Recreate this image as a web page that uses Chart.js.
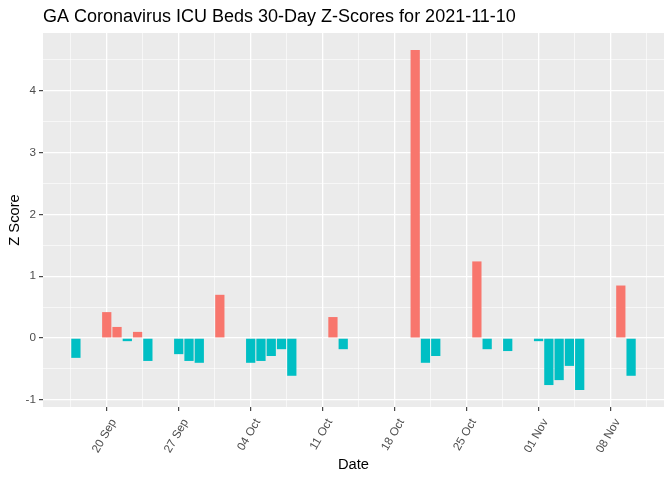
<!DOCTYPE html>
<html>
<head>
<meta charset="utf-8">
<script src="https://cdn.jsdelivr.net/npm/chart.js@4/dist/chart.umd.min.js"></script>
<style>
  html, body { margin: 0; padding: 0; background: #fff; }
  #wrap { width: 672px; height: 480px; }
</style>
</head>
<body>
<div id="wrap"><canvas id="zChart" width="672" height="480"></canvas></div>
<script>
// ==========================
// データ
// ==========================
const dates = [
  "2021-09-17", "2021-09-20", "2021-09-21", "2021-09-22", "2021-09-23", "2021-09-24",
  "2021-09-27", "2021-09-28", "2021-09-29", "2021-10-01",
  "2021-10-04", "2021-10-05", "2021-10-06", "2021-10-07", "2021-10-08",
  "2021-10-12", "2021-10-13",
  "2021-10-20", "2021-10-21", "2021-10-22",
  "2021-10-26", "2021-10-27", "2021-10-29",
  "2021-11-01", "2021-11-02", "2021-11-03", "2021-11-04", "2021-11-05",
  "2021-11-09", "2021-11-10"
];
const zScores = [
  -0.32, 0.42, 0.18, -0.05, 0.10, -0.37,
  -0.26, -0.37, -0.40, 0.70,
  -0.40, -0.37, -0.29, -0.18, -0.61,
  0.34, -0.18,
  4.66, -0.40, -0.29,
  1.24, -0.18, -0.21,
  -0.05, -0.76, -0.68, -0.45, -0.84,
  0.85, -0.61
];
const dateTicks = ["2021-09-20", "2021-09-27", "2021-10-04", "2021-10-11",
                   "2021-10-18", "2021-10-25", "2021-11-01", "2021-11-08"];
const yTicks = [-1, 0, 1, 2, 3, 4];

const titleText = "GA Coronavirus ICU Beds 30-Day Z-Scores for 2021-11-10";
const months = ["Jan", "Feb", "Mar", "Apr", "May", "Jun", "Jul", "Aug", "Sep", "Oct", "Nov", "Dec"];

// 日付 → 基準日(9/20)からの日数
const DAY = 86400000;
const base = Date.UTC(2021, 8, 20);
const toDay = s => (Date.parse(s + "T00:00:00Z") - base) / DAY;
const fmtDay = v => {
  const d = new Date(base + v * DAY);
  return String(d.getUTCDate()).padStart(2, "0") + " " + months[d.getUTCMonth()];
};

const majorX = dateTicks.map(toDay);
const minorX = [majorX[0] - 3.5].concat(majorX.map(v => v + 3.5));
const majorY = yTicks;
const minorY = yTicks.map(v => v + 0.5);

const points = dates.map((d, i) => ({ x: toDay(d), y: zScores[i] }));

const FAMILY = "'Liberation Sans', Arial, sans-serif";
const font = { family: FAMILY, size: 11.7 };

// ==========================
// プラグイン（背景・タイトル・斜めラベル）
// ==========================
const ggLook = {
  id: "ggLook",
  beforeDraw(chart) {
    const { ctx, chartArea: a } = chart;
    ctx.save();
    ctx.fillStyle = "#EBEBEB";
    ctx.fillRect(a.left, a.top, a.right - a.left, a.bottom - a.top);
    ctx.restore();
  },
  afterDraw(chart) {
    const ctx = chart.ctx;
    const xs = chart.scales.x;
    ctx.save();
    ctx.fillStyle = "#000";
    ctx.font = "18px " + FAMILY;
    ctx.textBaseline = "alphabetic";
    ctx.fillText(titleText, chart.chartArea.left, 22);

    // x軸ラベル（60度回転, 右上揃え）
    ctx.fillStyle = "#4D4D4D";
    ctx.font = font.size + "px " + FAMILY;
    ctx.textAlign = "right";
    ctx.textBaseline = "top";
    majorX.forEach(v => {
      const px = xs.getPixelForValue(v);
      ctx.save();
      ctx.translate(px + 2, chart.chartArea.bottom + 10);
      ctx.rotate(-Math.PI / 3);
      ctx.fillText(fmtDay(v), 0, 0);
      ctx.restore();
    });
    ctx.restore();
  }
};

const isMajor = (list, v) => list.some(m => Math.abs(m - v) < 1e-6);

// ==========================
// グラフ表示
// ==========================
new Chart(document.getElementById("zChart"), {
  type: "bar",
  data: {
    datasets: [{
      data: points,
      backgroundColor: ctx => (ctx.raw && ctx.raw.y > 0 ? "#F8766D" : "#00BFC4"),
      borderWidth: 0,
      barPercentage: 0.9,
      categoryPercentage: 1.0
    }]
  },
  options: {
    responsive: false,
    animation: false,
    layout: { padding: { top: 33, right: 8, left: 0, bottom: 0 } },
    plugins: { legend: { display: false }, tooltip: { enabled: false }, title: { display: false } },
    scales: {
      x: {
        type: "linear",
        offset: false,
        min: -6.2,
        max: 54.2,
        afterFit(s) { s.height = 73; },
        afterBuildTicks(s) {
          s.ticks = minorX.concat(majorX).sort((a, b) => a - b).map(v => ({ value: v }));
        },
        ticks: {
          autoSkip: false,
          maxRotation: 0,
          padding: 0,
          font,
          callback: () => ""
        },
        grid: {
          offset: false,
          color: "#FFFFFF",
          lineWidth: c => (c.tick && isMajor(majorX, c.tick.value) ? 1.3 : 0.6),
          tickColor: c => (c.tick && isMajor(majorX, c.tick.value) ? "#333333" : "rgba(0,0,0,0)"),
          tickLength: 4,
          tickWidth: 1.1
        },
        border: { display: false },
        title: {
          display: true,
          text: "Date",
          color: "#000",
          font: { family: FAMILY, size: 14.7 },
          padding: { top: 0, bottom: 6 }
        }
      },
      y: {
        min: -1.115,
        max: 4.935,
        afterFit(s) { s.width = 43; },
        afterBuildTicks(s) {
          s.ticks = minorY.concat(majorY).sort((a, b) => a - b).map(v => ({ value: v }));
        },
        ticks: {
          autoSkip: false,
          padding: 3,
          color: "#4D4D4D",
          font,
          callback: v => (isMajor(majorY, v) ? String(v) : "")
        },
        grid: {
          color: "#FFFFFF",
          lineWidth: c => (c.tick && isMajor(majorY, c.tick.value) ? 1.3 : 0.6),
          tickColor: c => (c.tick && isMajor(majorY, c.tick.value) ? "#333333" : "rgba(0,0,0,0)"),
          tickLength: 4,
          tickWidth: 1.1
        },
        border: { display: false },
        title: {
          display: true,
          text: "Z Score",
          color: "#000",
          font: { family: FAMILY, size: 14.7 },
          padding: { top: 6, bottom: 0 }
        }
      }
    }
  },
  plugins: [ggLook]
});
</script>
</body>
</html>
